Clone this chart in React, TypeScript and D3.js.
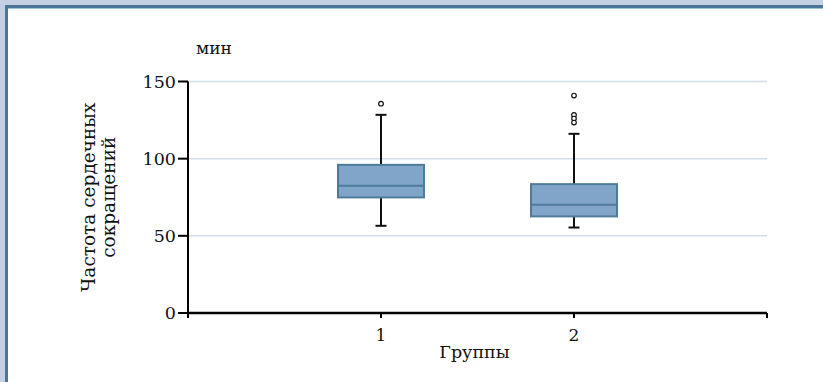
import React from "react";
import * as d3 from "d3";

const groups = [1, 2];
const whiskerLow = [56.5, 55.4];
const q1 = [74.9, 62.6];
const median = [82.4, 70.1];
const q3 = [96.0, 83.5];
const whiskerHigh = [128.4, 116.1];
const outliers = [[135.6], [140.9, 128.3, 126.0, 123.4]];
const yTicks = [0, 50, 100, 150];
const xTicks = [1, 2];

const W = 823;
const H = 382;
const FONT = "'DejaVu Serif', serif";

export default function App() {
  const x = d3.scaleLinear().domain([0, 3]).range([188, 767]);
  const y = d3.scaleLinear().domain([0, 150]).range([313, 81.5]);
  const boxW = 86;
  const capW = 11;

  return (
    <svg width={W} height={H} style={{ position: "absolute", left: 0, top: 0 }}>
      <rect x={0} y={0} width={W} height={H} fill="#c4d0e1" />
      <rect x={5} y={5} width={W} height={H} fill="#4b7495" />
      <rect x={8} y={8} width={W} height={H} fill="#ffffff" />
      <line x1={8} x2={W} y1={8.5} y2={8.5} stroke="#9cc3d4" strokeWidth={1} />

      {/* gridlines */}
      {yTicks.filter((t) => t > 0).map((t) => (
        <line key={"g" + t} x1={x(0)} x2={x(3)} y1={y(t)} y2={y(t)} stroke="#d3deeb" strokeWidth={1.5} />
      ))}

      {/* boxes */}
      {groups.map((g, i) => {
        const cx = x(g);
        return (
          <g key={"b" + g}>
            <line x1={cx} x2={cx} y1={y(whiskerHigh[i])} y2={y(q3[i])} stroke="#111" strokeWidth={2} />
            <line x1={cx} x2={cx} y1={y(q1[i])} y2={y(whiskerLow[i])} stroke="#111" strokeWidth={2} />
            <line x1={cx - capW / 2} x2={cx + capW / 2} y1={y(whiskerHigh[i])} y2={y(whiskerHigh[i])} stroke="#111" strokeWidth={2} />
            <line x1={cx - capW / 2} x2={cx + capW / 2} y1={y(whiskerLow[i])} y2={y(whiskerLow[i])} stroke="#111" strokeWidth={2} />
            <rect
              x={cx - boxW / 2}
              y={y(q3[i])}
              width={boxW}
              height={y(q1[i]) - y(q3[i])}
              fill="#80a5c8"
              stroke="#4f7b9b"
              strokeWidth={2}
            />
            <line x1={cx - boxW / 2} x2={cx + boxW / 2} y1={y(median[i])} y2={y(median[i])} stroke="#4f7b9b" strokeWidth={2} />
            {outliers[i].map((o, j) => (
              <circle key={j} cx={cx} cy={y(o)} r={2.3} fill="#fff" stroke="#111" strokeWidth={1.2} />
            ))}
          </g>
        );
      })}

      {/* y axis */}
      <line x1={x(0)} x2={x(0)} y1={y(150)} y2={y(0) + 5} stroke="#000" strokeWidth={2} />
      {yTicks.map((t) => (
        <g key={"y" + t}>
          <line x1={x(0) - 10} x2={x(0)} y1={y(t)} y2={y(t)} stroke="#000" strokeWidth={2} />
          <text x={x(0) - 12} y={y(t)} dy="0.35em" textAnchor="end" fontFamily={FONT} fontSize={17.5} fill="#111">
            {t}
          </text>
        </g>
      ))}

      {/* x axis */}
      <line x1={x(0)} x2={x(3)} y1={y(0)} y2={y(0)} stroke="#000" strokeWidth={2.5} />
      {[...xTicks, 3].map((t) => (
        <line key={"xt" + t} x1={x(t)} x2={x(t)} y1={y(0)} y2={y(0) + 5} stroke="#000" strokeWidth={2} />
      ))}
      {xTicks.map((t) => (
        <text key={"xl" + t} x={x(t)} y={341} textAnchor="middle" fontFamily={FONT} fontSize={17} fill="#111">
          {t}
        </text>
      ))}
      <text x={(x(1) + x(2)) / 2 - 3} y={358} textAnchor="middle" fontFamily={FONT} fontSize={17.5} fill="#111">
        Группы
      </text>

      <text x={196} y={54} fontFamily={FONT} fontSize={17} fill="#111">
        мин
      </text>

      <g transform={`translate(0, ${y(75)})`}>
        <text transform="translate(95,0) rotate(-90)" textAnchor="middle" fontFamily={FONT} fontSize={18.5} fill="#111">
          Частота сердечных
        </text>
        <text transform="translate(115,0) rotate(-90)" textAnchor="middle" fontFamily={FONT} fontSize={18.5} fill="#111">
          сокращений
        </text>
      </g>
    </svg>
  );
}
